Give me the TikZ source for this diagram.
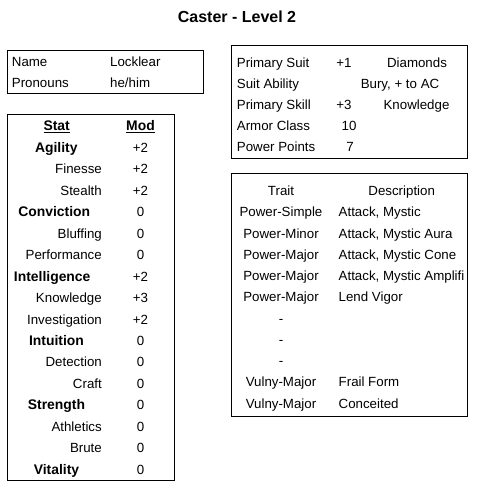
\documentclass[tikz,border=0pt]{standalone}
\usepackage{fontspec}
\setmainfont{Liberation Sans}
\begin{document}
\begin{tikzpicture}[x=1pt,y=-1pt,
  box/.style={draw=black,line width=1pt},
  txt/.style={inner sep=0pt,font=\fontsize{13.3}{15}\selectfont},
  btxt/.style={inner sep=0pt,font=\fontsize{13.9}{15}\selectfont\bfseries},
  ttl/.style={inner sep=0pt,font=\fontsize{16}{18}\selectfont\bfseries},
  L/.style={anchor=base west},
  C/.style={anchor=base},
  R/.style={anchor=base east}]
\useasboundingbox[fill=white] (0,0) rectangle (478,486);
% title
\node[ttl,C] (title) at (237,22.7) {Caster - Level 2};
% boxes
\draw[box] (7.3,50.7) rectangle (203.3,93.3);
\draw[box] (7.3,115) rectangle (174,480);
\draw[box] (231.5,46) rectangle (467.7,158.3);
\draw[box] (231.5,173.5) rectangle (467.7,416.7);
% name box
\node[txt,L] (n1) at (11.7,66.7) {Name};
\node[txt,L] (n2) at (110,66.7) {Locklear};
\node[txt,L] (n3) at (11.7,87.3) {Pronouns};
\node[txt,L] (n4) at (110,87.3) {he/him};
% stat box
\def\ry#1{131+21.45*#1}
\node[btxt,C] (sh) at (56.7,{\ry{0}}) {\underline{Stat}};
\node[btxt,C] (mh) at (140.5,{\ry{0}}) {\underline{Mod}};
\node[btxt,C] (s1) at (56.3,{\ry{1}}) {Agility};
\node[txt,R] (s2) at (102,{\ry{2}}) {Finesse};
\node[txt,R] (s3) at (102,{\ry{3}}) {Stealth};
\node[btxt,C] (s4) at (54.2,{\ry{4}}) {Conviction};
\node[txt,R] (s5) at (102,{\ry{5}}) {Bluffing};
\node[txt,R] (s6) at (102,{\ry{6}}) {Performance};
\node[btxt,C] (s7) at (52.2,{\ry{7}}) {Intelligence};
\node[txt,R] (s8) at (102,{\ry{8}}) {Knowledge};
\node[txt,R] (s9) at (102,{\ry{9}}) {Investigation};
\node[btxt,C] (s10) at (56.5,{\ry{10}}) {Intuition};
\node[txt,R] (s11) at (102,{\ry{11}}) {Detection};
\node[txt,R] (s12) at (102,{\ry{12}}) {Craft};
\node[btxt,C] (s13) at (56.5,{\ry{13}}) {Strength};
\node[txt,R] (s14) at (102,{\ry{14}}) {Athletics};
\node[txt,R] (s15) at (102,{\ry{15}}) {Brute};
\node[btxt,C] (s16) at (56.5,{\ry{16}}) {Vitality};
\foreach \k/\v in {1/+2,2/+2,3/+2,4/0,5/0,6/0,7/+2,8/+3,9/+2,10/0,11/0,12/0,13/0,14/0,15/0,16/0}
  \node[txt,C] (m\k) at (140.5,{\ry{\k}}) {\v};
% primary box
\def\py#1{67.3+20.95*#1}
\node[txt,L] (p1) at (236.7,{\py{0}}) {Primary Suit};
\node[txt,L] (p2) at (236.7,{\py{1}}) {Suit Ability};
\node[txt,L] (p3) at (236.7,{\py{2}}) {Primary Skill};
\node[txt,L] (p4) at (236.7,{\py{3}}) {Armor Class};
\node[txt,L] (p5) at (236.7,{\py{4}}) {Power Points};
\node[txt,C] (q1) at (344,{\py{0}}) {+1};
\node[txt,C] (q3) at (344,{\py{2}}) {+3};
\node[txt,C] (q4) at (349,{\py{3}}) {10};
\node[txt,C] (q5) at (350,{\py{4}}) {7};
\node[txt,C] (r1) at (417,{\py{0}}) {Diamonds};
\node[txt,C] (r2) at (400,{\py{1}}) {Bury, + to AC};
\node[txt,C] (r3) at (416.5,{\py{2}}) {Knowledge};
% trait box
\def\ty#1{195.5+21.25*#1}
\node[txt,C] (th) at (281,{\ty{0}}) {Trait};
\node[txt,C] (dh) at (401.7,{\ty{0}}) {Description};
\foreach \k/\t in {1/Power-Simple,2/Power-Minor,3/Power-Major,4/Power-Major,5/Power-Major,6/-,7/-,8/-,9/Vulny-Major,10/Vulny-Major}
  \node[txt,C] (t\k) at (281,{\ty{\k}}) {\t};
\node[txt,L] (d1) at (338.5,{\ty{1}}) {Attack, Mystic};
\node[txt,L] (d2) at (338.5,{\ty{2}}) {Attack, Mystic Aura};
\node[txt,L] (d3) at (338.5,{\ty{3}}) {Attack, Mystic Cone};
\begin{scope}
\clip (231.5,173.5) rectangle (465.5,416.7);
\node[txt,L] (d4) at (338.5,{\ty{4}}) {Attack, Mystic Amplifi};
\end{scope}
\node[txt,L] (d5) at (338.5,{\ty{5}}) {Lend Vigor};
\node[txt,L] (d9) at (338.5,{\ty{9}}) {Frail Form};
\node[txt,L] (d10) at (338.5,{\ty{10}}) {Conceited};
\end{tikzpicture}
\end{document}
